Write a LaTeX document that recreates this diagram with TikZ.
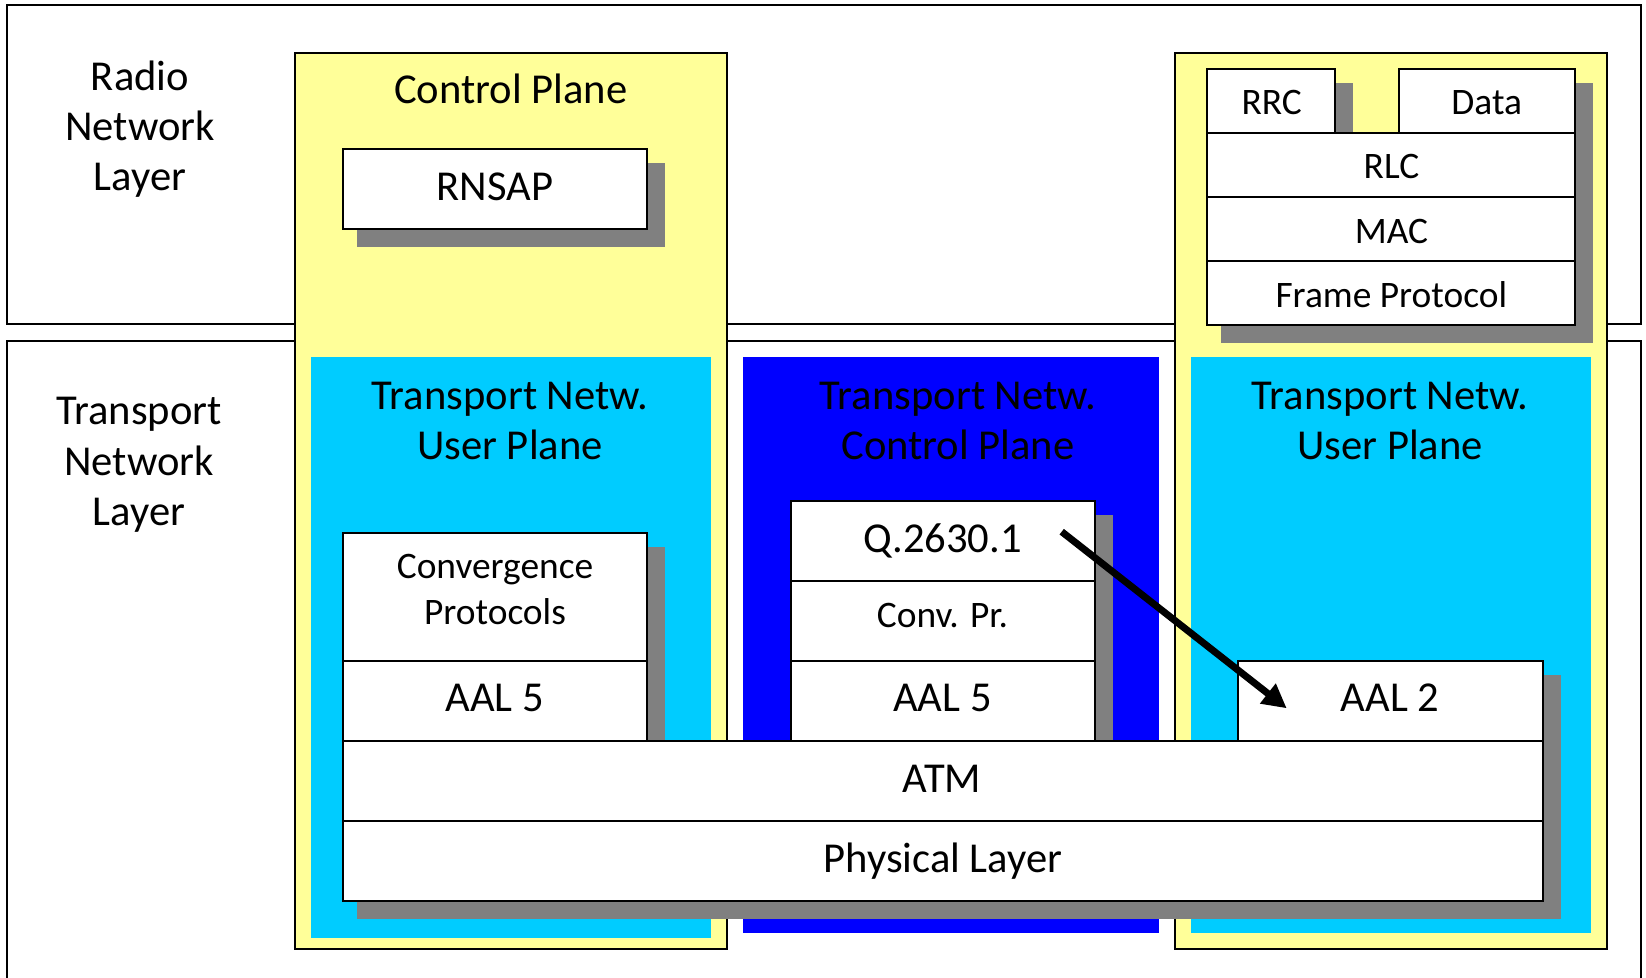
\documentclass[tikz,border=0pt]{standalone}
\usepackage{fontspec}
\setmainfont{Carlito}
\usetikzlibrary{arrows.meta}
\definecolor{ylw}{RGB}{255,255,153}
\definecolor{cyn}{RGB}{0,204,255}
\definecolor{blu}{RGB}{0,0,255}
\definecolor{shd}{RGB}{128,128,128}
\tikzset{
  frame/.style={draw=black, line width=1pt},
  whitebox/.style={frame, fill=white},
  shadow/.style={fill=shd},
  big/.style={font=\fontsize{21.3}{25}\selectfont, anchor=base, inner sep=0pt, yshift=-1pt},
  small/.style={font=\fontsize{18.7}{22.5}\selectfont, anchor=base, inner sep=0pt, yshift=-0.8pt},
}
\begin{document}
\begin{tikzpicture}[x=0.5pt,y=-0.5pt]
\useasboundingbox (0,0) rectangle (1646,978);
\clip (0,0) rectangle (1646,978);
% layer frames
\path[whitebox] (6.7,5) rectangle (1640.7,324.5);
\path[whitebox] (6.7,341) rectangle (1640.7,1000);
% planes
\path[frame, fill=ylw] (295.2,52.7) rectangle (727,948.5);
\path[fill=cyn] (311,356.7) rectangle (711.2,938.3);
\path[fill=blu] (742.7,356.7) rectangle (1158.5,932.5);
\path[frame, fill=ylw] (1175,53.3) rectangle (1606.7,948.5);
\path[fill=cyn] (1191,357.3) rectangle (1591,932.5);
% shadows
\path[shadow] (357,163.3) rectangle (665,246.7);
\path[shadow] (1221,83.3) rectangle (1352.7,200);
\path[shadow] (1413,83.3) rectangle (1592.7,200);
\path[shadow] (1221,140) rectangle (1592.7,342.7);
\path[shadow] (357,547.3) rectangle (665.2,760);
\path[shadow] (806,515) rectangle (1112.7,760);
\path[shadow] (1253,675.3) rectangle (1561,760);
\path[shadow] (357.2,756) rectangle (1561,919);
% white boxes
\path[whitebox] (342.7,149) rectangle (647.3,229.3);
\path[whitebox] (1207,69) rectangle (1335,132.7);
\path[whitebox] (1399,69) rectangle (1575,132.7);
\path[whitebox] (1207,132.7) rectangle (1575,196.7);
\path[whitebox] (1207,196.7) rectangle (1575,260.7);
\path[whitebox] (1207,260.7) rectangle (1575,325);
\path[whitebox] (342.7,532.7) rectangle (647,661);
\path[whitebox] (342.7,661) rectangle (647,740.7);
\path[whitebox] (790.7,500.7) rectangle (1095,580.7);
\path[whitebox] (790.7,580.7) rectangle (1095,661);
\path[whitebox] (790.7,661) rectangle (1095,740.7);
\path[whitebox] (1238.3,661) rectangle (1543.3,740.7);
\path[whitebox] (342.6,740.7) rectangle (1543.3,820.7);
\path[whitebox] (342.6,820.7) rectangle (1543.3,900.7);
% texts
\node[big] (rn1) at (140,88.3) {Radio};
\node[big] (rn2) at (140,138.3) {Network};
\node[big] (rn3) at (140,188.3) {Layer};
\node[big] (tn1) at (139,422.7) {Transport};
\node[big] (tn2) at (139,473.3) {Network};
\node[big] (tn3) at (139,524) {Layer};
\node[big] (cp) at (510.8,101.7) {Control Plane};
\node[big] (rnsap) at (495,199) {RNSAP};
\node[big] (tul1) at (510,407.7) {Transport Netw.};
\node[big] (tul2) at (510,457.7) {User Plane};
\node[big] (tc1) at (958,407.7) {Transport Netw.};
\node[big] (tc2) at (958,457.7) {Control Plane};
\node[big] (tur1) at (1390,407.7) {Transport Netw.};
\node[big] (tur2) at (1390,457.7) {User Plane};
\node[small] (conv1) at (495,577.3) {Convergence};
\node[small] (conv2) at (495,622.7) {Protocols};
\node[big] (aal5a) at (494.7,710) {AAL 5};
\node[big] (q) at (942.7,550.7) {Q.2630.1};
\node[small] (cpr) at (942.5,626) {Conv. Pr.};
\node[big] (aal5b) at (942.5,710) {AAL 5};
\node[big] (aal2) at (1390,710) {AAL 2};
\node[big] (atm) at (942,790.7) {ATM};
\node[big] (phy) at (943,870) {Physical Layer};
\node[small] (rrc) at (1271.7,113.3) {RRC};
\node[small] (data) at (1486.7,113.3) {Data};
\node[small] (rlc) at (1391.5,177.3) {RLC};
\node[small] (mac) at (1391.5,241.7) {MAC};
\node[small] (fp) at (1391.3,305.7) {Frame Protocol};
% arrow
\coordinate (arrS) at (1061.7,531.7);
\coordinate (arrE) at (1286.7,708.3);
\draw[line width=3.5pt, -{Triangle[length=12pt,width=12pt]}] (arrS) -- (arrE);
\end{tikzpicture}
\end{document}
